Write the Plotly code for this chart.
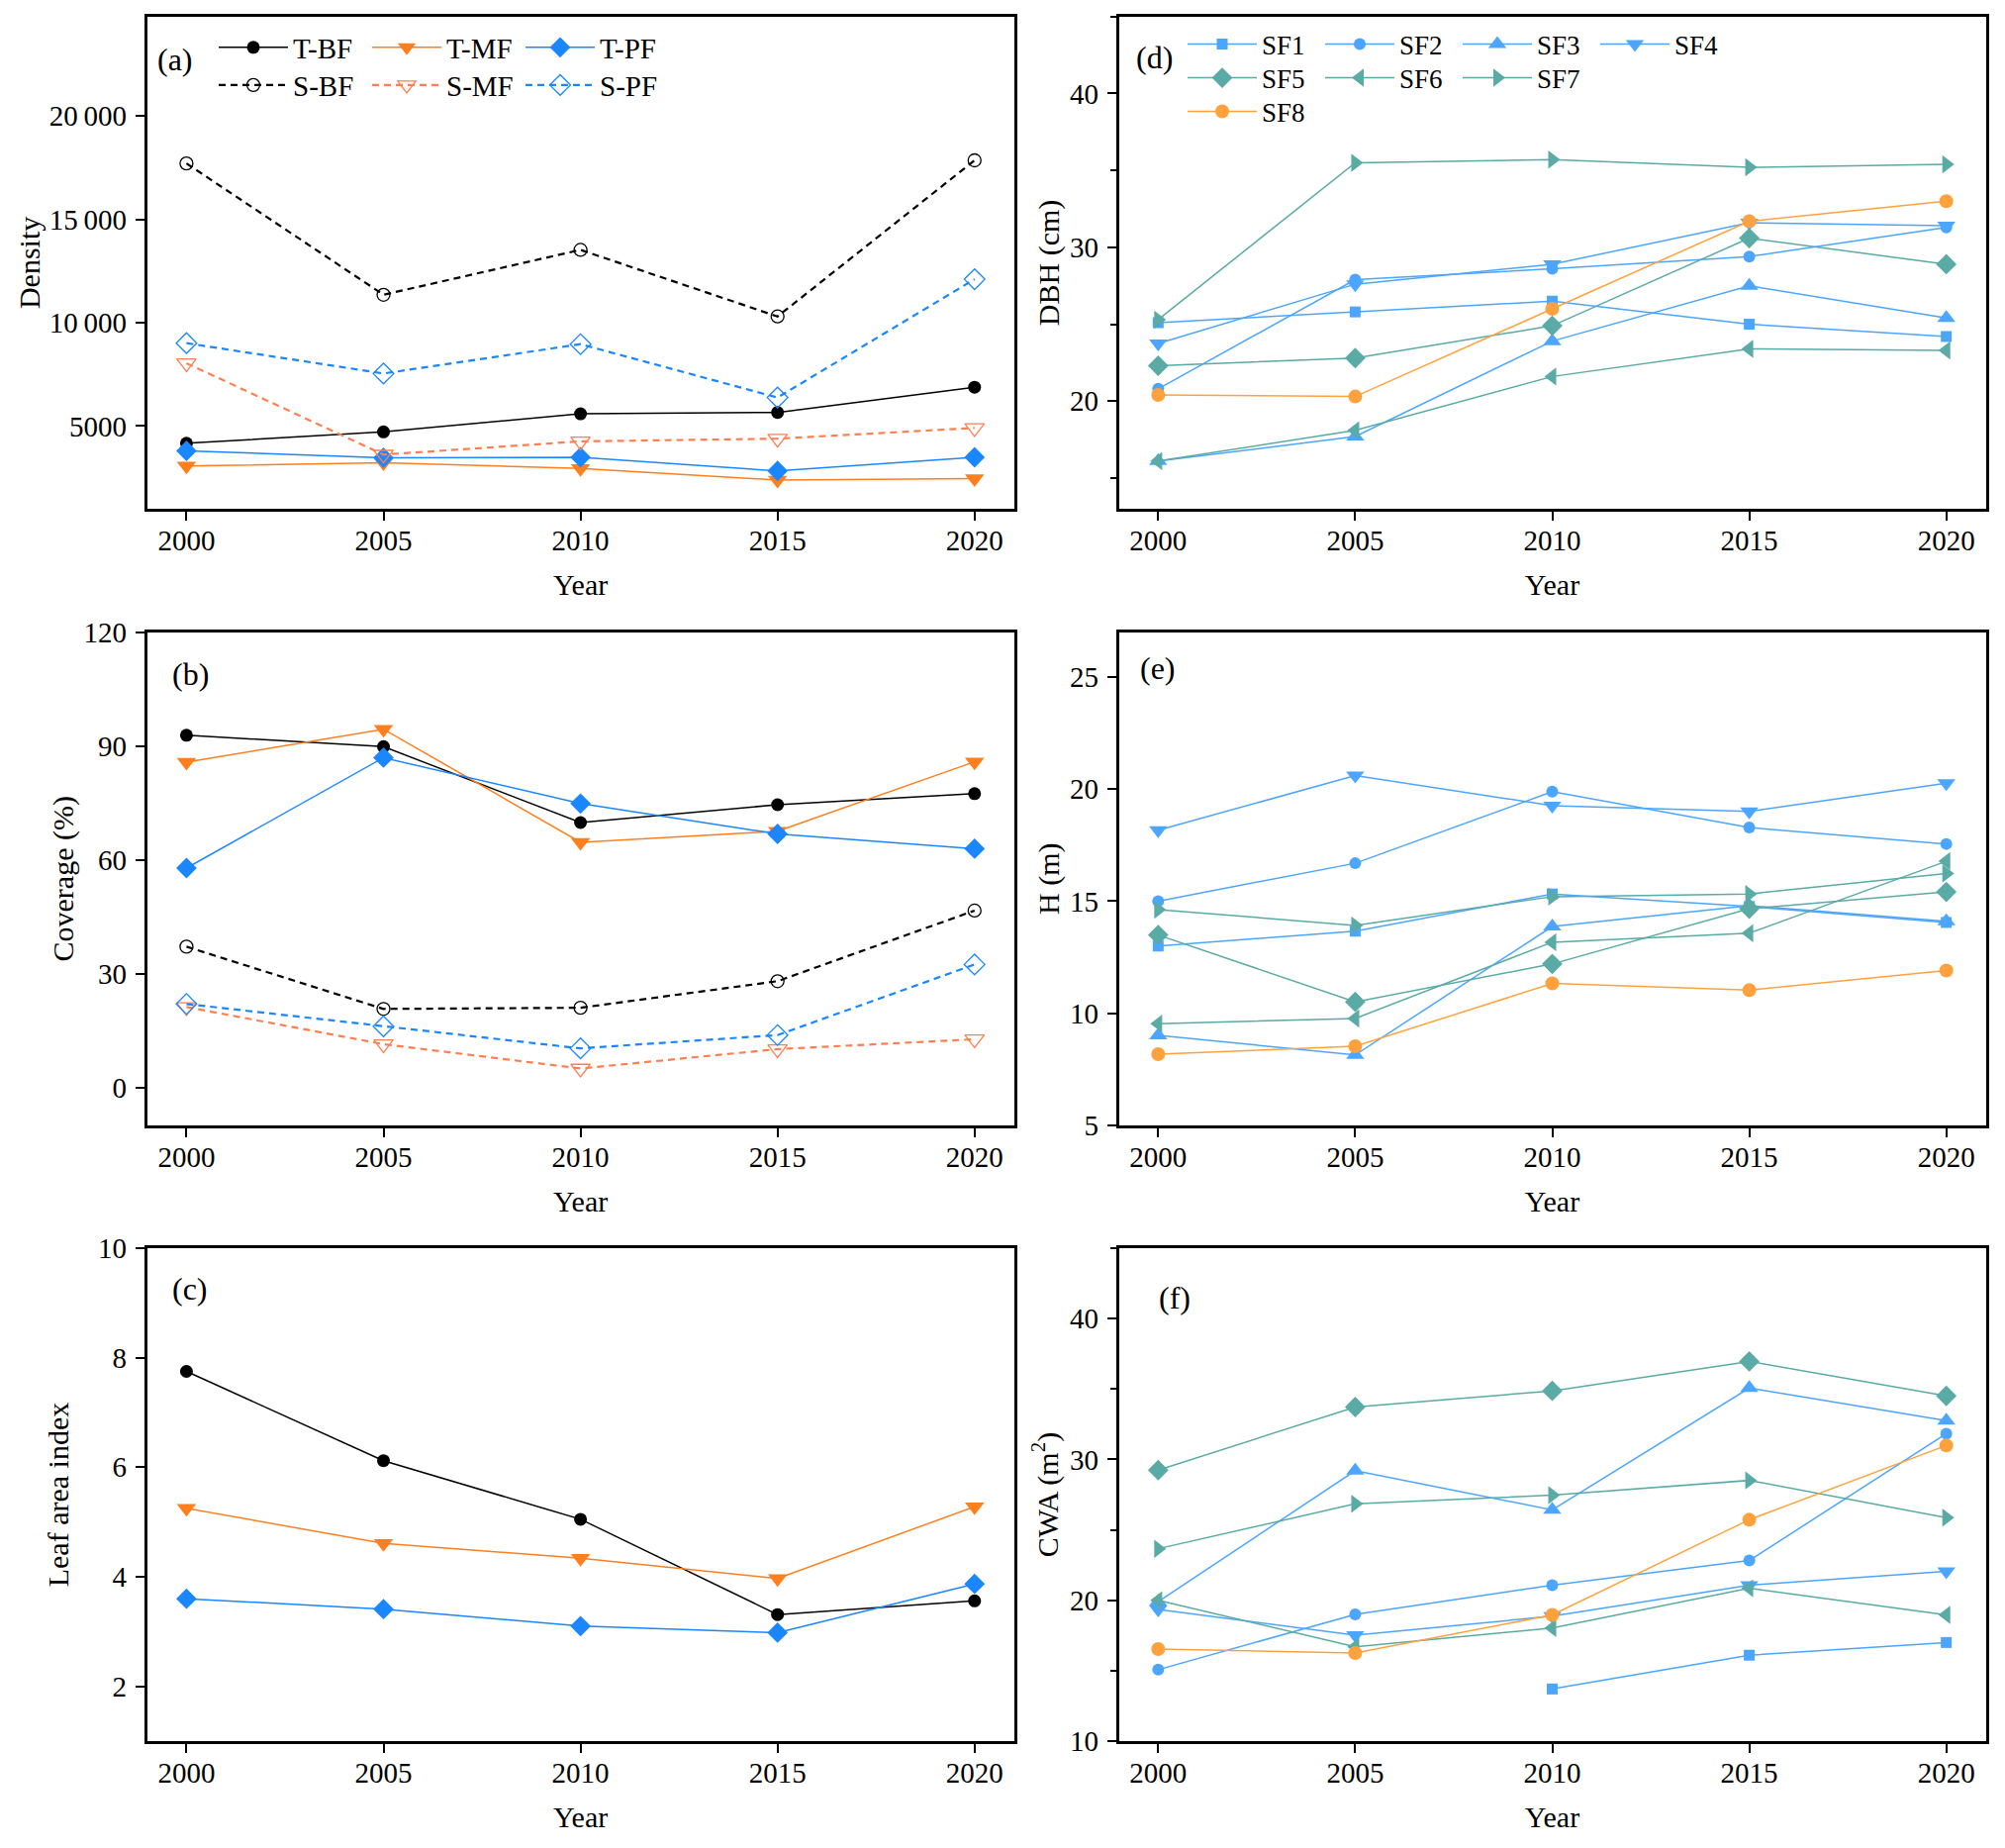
import plotly.graph_objects as go
from plotly.subplots import make_subplots

years = [2000, 2005, 2010, 2015, 2020]

# (a) Density
dens_T_BF = [4170, 4720, 5590, 5660, 6880]
dens_T_MF = [3070, 3220, 2950, 2390, 2460]
dens_T_PF = [3800, 3470, 3490, 2830, 3490]
dens_S_BF = [17700, 11350, 13520, 10300, 17850]
dens_S_MF = [8040, 3620, 4260, 4390, 4910]
dens_S_PF = [9010, 7540, 8960, 6380, 12100]
dens_ticks = [5000, 10000, 15000, 20000]
dens_ticktext = ["5000", "10\u2009000", "15\u2009000", "20\u2009000"]

# (b) Coverage (%)
cov_T_BF = [92.8, 89.8, 69.8, 74.5, 77.4]
cov_T_MF = [85.7, 94.4, 64.6, 67.5, 85.8]
cov_T_PF = [57.8, 86.9, 74.8, 66.8, 62.9]
cov_S_BF = [37.1, 20.7, 21.0, 28.0, 46.6]
cov_S_MF = [21.2, 11.4, 5.0, 10.1, 12.7]
cov_S_PF = [22.0, 16.1, 10.3, 13.8, 32.4]

# (c) Leaf area index
lai_T_BF = [7.75, 6.12, 5.05, 3.31, 3.56]
lai_T_MF = [5.25, 4.61, 4.34, 3.97, 5.28]
lai_T_PF = [3.60, 3.41, 3.10, 2.98, 3.87]

# (d) DBH (cm)
dbh_SF1 = [25.1, 25.8, 26.5, 25.0, 24.2]
dbh_SF2 = [20.8, 27.9, 28.6, 29.4, 31.3]
dbh_SF3 = [16.1, 17.7, 23.9, 27.5, 25.4]
dbh_SF4 = [23.75, 27.6, 28.9, 31.6, 31.4]
dbh_SF5 = [22.3, 22.8, 24.9, 30.6, 28.9]
dbh_SF6 = [16.1, 18.1, 21.6, 23.4, 23.3]
dbh_SF7 = [25.3, 35.5, 35.7, 35.2, 35.4]
dbh_SF8 = [20.4, 20.3, 26.0, 31.7, 33.0]

# (e) H (m)
h_SF1 = [13.0, 13.66, 15.32, 14.76, 14.05]
h_SF2 = [15.0, 16.69, 19.88, 18.28, 17.55]
h_SF3 = [9.02, 8.14, 13.87, 14.8, 14.1]
h_SF4 = [18.16, 20.6, 19.26, 19.0, 20.26]
h_SF5 = [13.49, 10.51, 12.2, 14.66, 15.41]
h_SF6 = [9.54, 9.77, 13.17, 13.57, 16.78]
h_SF7 = [14.62, 13.92, 15.2, 15.32, 16.23]
h_SF8 = [8.18, 8.53, 11.33, 11.03, 11.91]

# (f) CWA (m2)
cwa_SF1 = [None, None, 13.7, 16.1, 17.0]
cwa_SF2 = [15.07, 19.0, 21.07, 22.82, 31.83]
cwa_SF3 = [19.9, 29.2, 26.42, 35.07, 32.76]
cwa_SF4 = [19.35, 17.52, 18.87, 21.07, 22.06]
cwa_SF5 = [29.24, 33.72, 34.87, 36.96, 34.51]
cwa_SF6 = [20.0, 16.7, 18.03, 20.85, 18.96]
cwa_SF7 = [23.66, 26.85, 27.46, 28.51, 25.86]
cwa_SF8 = [16.54, 16.25, 18.96, 25.72, 30.99]

FONT = "Liberation Serif"
BLACK = "#000000"
ORANGE = "#FF7F1E"
CORAL = "#FF7F50"
BLUE = "#1A86FF"
SFBLUE = "#4CA5FF"
TEAL = "#5AAAA5"
SFORANGE = "#FFA23D"

W, H = 2026, 1867
fig = make_subplots(rows=3, cols=2)

ft_styles = [
    ("T-BF", BLACK, "circle", "solid", 13, "legend"),
    ("T-MF", ORANGE, "triangle-down", "solid", 17, "legend"),
    ("T-PF", BLUE, "diamond", "solid", 16, "legend"),
    ("S-BF", BLACK, "circle-open", "7px,5px", 13, "legend2"),
    ("S-MF", CORAL, "triangle-down-open", "7px,5px", 17, "legend2"),
    ("S-PF", BLUE, "diamond-open", "7px,5px", 16, "legend2"),
]
panel_a = [dens_T_BF, dens_T_MF, dens_T_PF, dens_S_BF, dens_S_MF, dens_S_PF]
panel_b = [cov_T_BF, cov_T_MF, cov_T_PF, cov_S_BF, cov_S_MF, cov_S_PF]
panel_c = [lai_T_BF, lai_T_MF, lai_T_PF]

for r, data in [(1, panel_a), (2, panel_b), (3, panel_c)]:
    for (name, color, sym, dash, size, leg), vals in zip(ft_styles, data):
        lw = 1.5 if dash == "solid" else 2.2
        fig.add_trace(go.Scatter(
            x=years, y=vals, name=name, mode="lines+markers",
            line=dict(color=color, width=lw, dash=dash),
            marker=dict(symbol=sym, size=size, color=color,
                        line=dict(color=color, width=1.3 if "open" in sym else 0)),
            showlegend=(r == 1), legend=leg, cliponaxis=False,
        ), row=r, col=1)

sf_styles = [
    ("SF1", SFBLUE, "square", 11, "legend3"),
    ("SF2", SFBLUE, "circle", 12, "legend3"),
    ("SF3", SFBLUE, "triangle-up", 16, "legend3"),
    ("SF4", SFBLUE, "triangle-down", 16, "legend3"),
    ("SF5", TEAL, "diamond", 16, "legend4"),
    ("SF6", TEAL, "triangle-left", 16, "legend4"),
    ("SF7", TEAL, "triangle-right", 16, "legend4"),
    ("SF8", SFORANGE, "circle", 14, "legend5"),
]
panel_d = [dbh_SF1, dbh_SF2, dbh_SF3, dbh_SF4, dbh_SF5, dbh_SF6, dbh_SF7, dbh_SF8]
panel_e = [h_SF1, h_SF2, h_SF3, h_SF4, h_SF5, h_SF6, h_SF7, h_SF8]
panel_f = [cwa_SF1, cwa_SF2, cwa_SF3, cwa_SF4, cwa_SF5, cwa_SF6, cwa_SF7, cwa_SF8]

for r, data in [(1, panel_d), (2, panel_e), (3, panel_f)]:
    for (name, color, sym, size, leg), vals in zip(sf_styles, data):
        fig.add_trace(go.Scatter(
            x=years, y=vals, name=name, mode="lines+markers",
            line=dict(color=color, width=1.5),
            marker=dict(symbol=sym, size=size, color=color, line=dict(width=0)),
            showlegend=(r == 1), legend=leg, cliponaxis=False,
        ), row=r, col=2)

# domains (pixel based)
xd_left = [148.6 / W, 1024.6 / W]
xd_right = [1130.5 / W, 2006.5 / W]
yd_rows = [
    [1 - 514 / H, 1 - 16.8 / H],
    [1 - 1137 / H, 1 - 638.5 / H],
    [1 - 1759 / H, 1 - 1261 / H],
]

tickfont = dict(family=FONT, size=29, color="black")
titlefont = dict(family=FONT, size=30, color="black")

axis_common = dict(showgrid=False, zeroline=False, showline=True, linecolor="black",
                   linewidth=2.5, mirror=True, ticks="outside", ticklen=9, tickwidth=2,
                   tickcolor="black", tickfont=tickfont, automargin=False)

yspecs = {
    (1, 1): dict(range=[1000, 24800], tickvals=dens_ticks, ticktext=dens_ticktext,
                 title="Density", minor=None, standoff=1),
    (2, 1): dict(range=[-10, 120], tickvals=[0, 30, 60, 90, 120], ticktext=None,
                 title="Coverage (%)", minor=None, standoff=2),
    (3, 1): dict(range=[1, 10], tickvals=[2, 4, 6, 8, 10], ticktext=None,
                 title="Leaf area index", minor=None, standoff=21),
    (1, 2): dict(range=[13, 45], tickvals=[20, 30, 40], ticktext=None,
                 title="DBH (cm)", minor=5, standoff=2),
    (2, 2): dict(range=[5, 27], tickvals=[5, 10, 15, 20, 25], ticktext=None,
                 title="H (m)", minor=None, standoff=2),
    (3, 2): dict(range=[10, 45], tickvals=[10, 20, 30, 40], ticktext=None,
                 title="CWA (m<sup>2</sup>)", minor=5, standoff=3),
}

for (r, c), sp in yspecs.items():
    xdom = xd_left if c == 1 else xd_right
    fig.update_xaxes(axis_common, row=r, col=c, domain=xdom, range=[1999, 2021],
                     tickvals=years, ticklabelstandoff=-5,
                     title=dict(text="Year", font=titlefont, standoff=20))
    yargs = dict(axis_common)
    yargs.update(domain=yd_rows[r - 1], range=sp["range"], tickvals=sp["tickvals"],
                 ticklabelstandoff=3,
                 title=dict(text=sp["title"], font=titlefont, standoff=sp["standoff"]))
    if sp["ticktext"] is not None:
        yargs["ticktext"] = sp["ticktext"]
    if sp["minor"]:
        yargs["minor"] = dict(tickmode="linear", tick0=0, dtick=sp["minor"], ticks="outside",
                              ticklen=6, tickwidth=2, tickcolor="black")
    fig.update_yaxes(yargs, row=r, col=c)

# panel labels
labels = [("(a)", 157, 60), ("(b)", 172, 681), ("(c)", 172, 1302),
          ("(d)", 1146, 58), ("(e)", 1150, 675), ("(f)", 1169, 1311)]
for txt, px, py in labels:
    fig.add_annotation(text=txt, x=px / W, y=1 - py / H, xref="paper", yref="paper",
                       xanchor="left", yanchor="middle", showarrow=False,
                       font=dict(family=FONT, size=32, color="black"))

leg_common = dict(orientation="h", xanchor="left", yanchor="middle", bgcolor="rgba(0,0,0,0)",
                  itemwidth=70, entrywidthmode="pixels", tracegroupgap=0, itemclick=False)
fig.update_layout(
    width=W, height=H, margin=dict(l=0, r=0, t=0, b=0, autoexpand=False),
    plot_bgcolor="white", paper_bgcolor="white",
    font=dict(family=FONT, size=28, color="black"),
    legend=dict(leg_common, x=216 / W, y=1 - 48 / H, entrywidth=70,
                font=dict(family=FONT, size=29, color="black")),
    legend2=dict(leg_common, x=216 / W, y=1 - 86 / H, entrywidth=70,
                 font=dict(family=FONT, size=29, color="black")),
    legend3=dict(leg_common, x=1195 / W, y=1 - 45 / H, entrywidth=54,
                 font=dict(family=FONT, size=27, color="black")),
    legend4=dict(leg_common, x=1195 / W, y=1 - 79 / H, entrywidth=54,
                 font=dict(family=FONT, size=27, color="black")),
    legend5=dict(leg_common, x=1195 / W, y=1 - 113 / H, entrywidth=54,
                 font=dict(family=FONT, size=27, color="black")),
)

fig.write_html("out.html", config={"displayModeBar": False},
               post_script="document.body.style.margin='0';")
